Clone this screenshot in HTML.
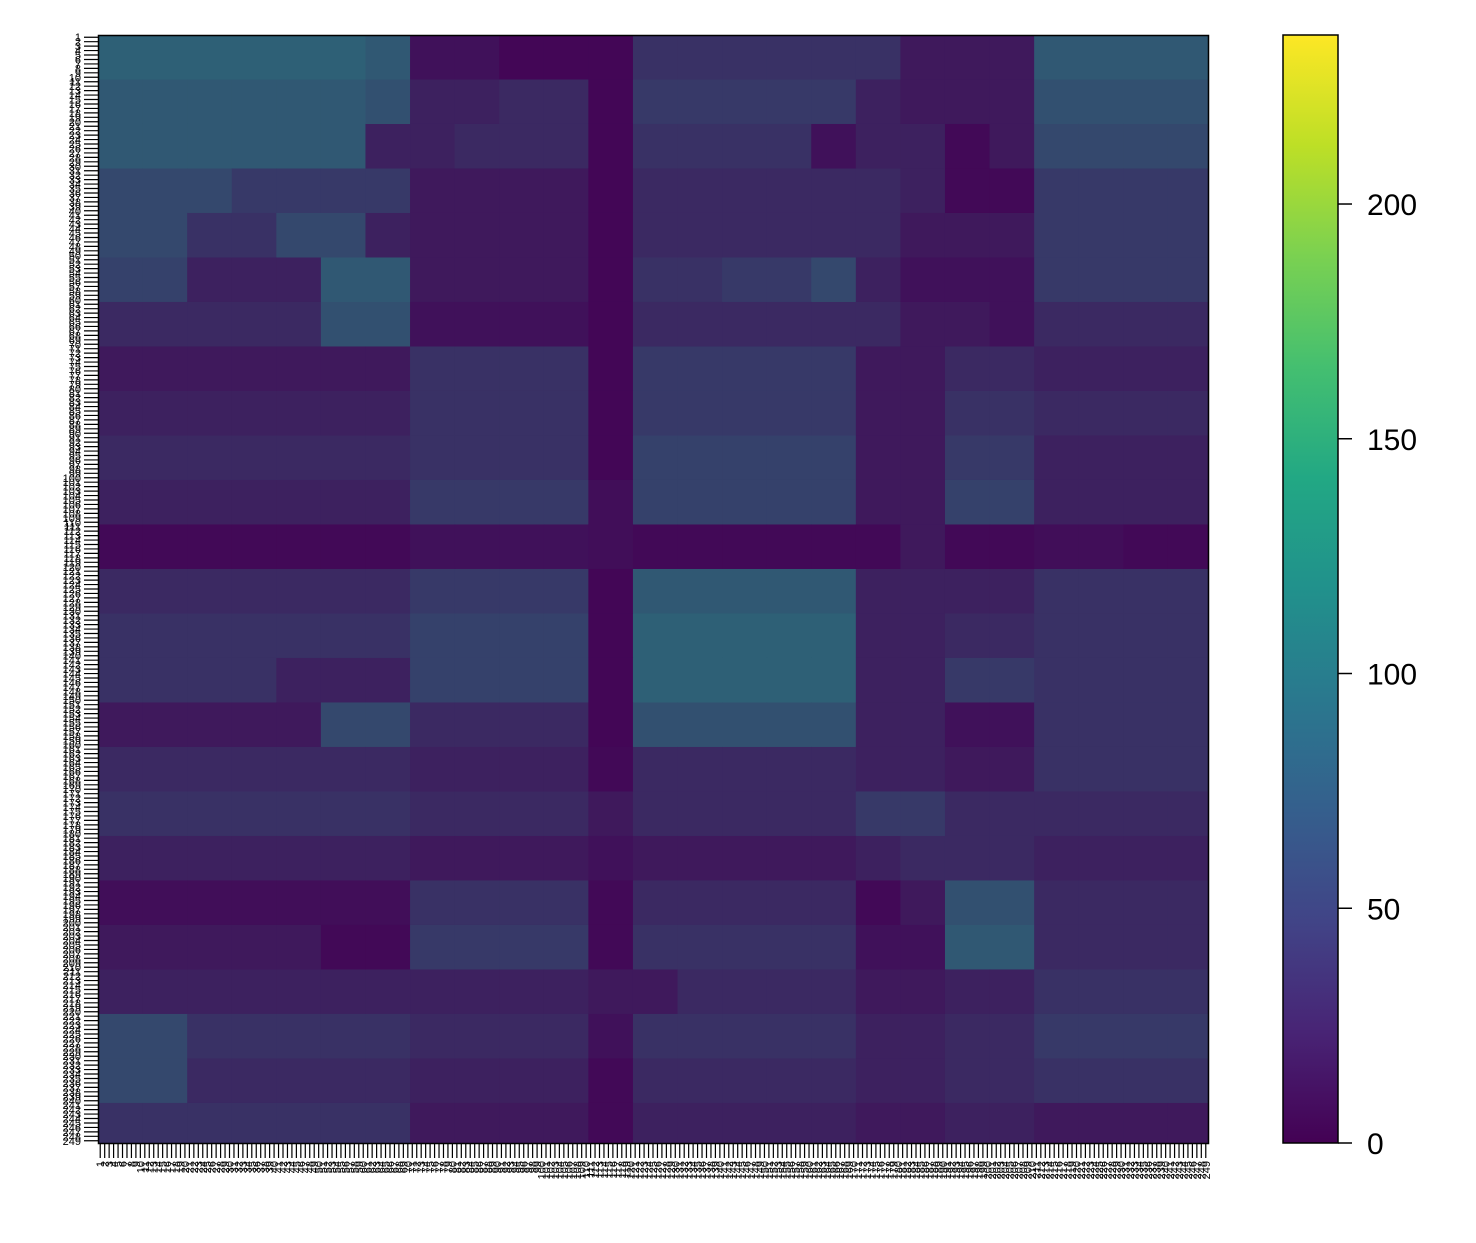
<!DOCTYPE html>
<html><head><meta charset="utf-8">
<style>
html,body{margin:0;padding:0;background:#fff;}
svg{display:block;font-family:"Liberation Sans","DejaVu Sans",sans-serif;}
</style></head>
<body>
<svg id="chart" width="1476" height="1243" viewBox="0 0 1476 1243">
<defs>
<linearGradient id="viridis" x1="0" y1="1" x2="0" y2="0">
<stop offset="0" stop-color="#440154"/><stop offset="0.1" stop-color="#482475"/><stop offset="0.2" stop-color="#414487"/><stop offset="0.3" stop-color="#355f8d"/><stop offset="0.4" stop-color="#2a788e"/><stop offset="0.5" stop-color="#21918c"/><stop offset="0.6" stop-color="#22a884"/><stop offset="0.7" stop-color="#44bf70"/><stop offset="0.8" stop-color="#7ad151"/><stop offset="0.9" stop-color="#bddf26"/><stop offset="1" stop-color="#fde725"/>
</linearGradient>
</defs>
<g id="cells"></g>
<rect x="98.5" y="35.5" width="1110" height="1108" fill="none" stroke="#000" stroke-width="1.5"/>
<g id="yticks"></g>
<g id="xticks"></g>
<rect x="1283" y="35" width="55" height="1108" fill="url(#viridis)" stroke="#000" stroke-width="1.5"/>
<g id="cbticks"></g>
</svg>
<script>
const nCells = 249;
const cbTicks = [0, 50, 100, 150, 200];
const vmax = 236;
const blockRows = [
[60,60,60,60,60,60,55,10,10,3,3,3,30,30,30,30,30,30,15,15,15,55,55,55,55],
[55,55,55,55,55,55,50,20,20,25,25,3,35,35,35,35,35,20,15,15,15,50,50,50,50],
[55,55,55,55,55,55,20,20,25,25,25,3,30,30,30,30,10,20,20,5,15,45,45,45,45],
[45,45,45,35,35,35,35,15,15,15,15,3,25,25,25,25,25,25,20,5,5,35,35,35,35],
[45,45,30,30,45,45,20,15,15,15,15,3,25,25,25,25,25,25,15,15,15,35,35,35,35],
[40,40,20,20,20,55,55,15,15,15,15,3,30,30,35,35,45,20,10,10,10,35,35,35,35],
[25,25,25,25,25,50,50,10,10,10,10,3,25,25,25,25,25,25,15,15,10,25,25,25,25],
[15,15,15,15,15,15,15,30,30,30,30,3,35,35,35,35,35,15,15,25,25,20,20,20,20],
[20,20,20,20,20,20,20,30,30,30,30,3,35,35,35,35,35,15,15,30,30,25,25,25,25],
[25,25,25,25,25,25,25,30,30,30,30,3,40,40,40,40,40,15,15,35,35,20,20,20,20],
[20,20,20,20,20,20,20,35,35,35,35,8,40,40,40,40,40,15,15,40,40,20,20,20,20],
[5,5,5,5,5,5,5,10,10,10,10,8,5,5,5,5,5,5,15,5,5,8,8,5,5],
[25,25,25,25,25,25,25,35,35,35,35,3,55,55,55,55,55,20,20,20,20,30,30,30,30],
[30,30,30,30,30,30,30,40,40,40,40,3,60,60,60,60,60,20,20,25,25,30,30,30,30],
[30,30,30,30,20,20,20,40,40,40,40,3,60,60,60,60,60,20,20,35,35,30,30,30,30],
[15,15,15,15,15,45,45,25,25,25,25,3,50,50,50,50,50,20,20,10,10,30,30,30,30],
[25,25,25,25,25,25,25,20,20,20,20,5,25,25,25,25,25,20,20,15,15,30,30,30,30],
[30,30,30,30,30,30,30,25,25,25,25,15,25,25,25,25,25,35,35,25,25,25,25,25,25],
[20,20,20,20,20,20,20,15,15,15,15,10,15,15,15,15,15,20,25,25,25,20,20,20,20],
[8,8,8,8,8,8,8,30,30,30,30,5,25,25,25,25,25,5,15,50,50,25,25,25,25],
[15,15,15,15,15,5,5,35,35,35,35,5,30,30,30,30,30,10,10,55,55,25,25,25,25],
[20,20,20,20,20,20,20,20,20,20,20,15,15,25,25,25,25,15,15,20,20,30,30,30,30],
[45,45,30,30,30,30,30,25,25,25,25,10,30,30,30,30,30,20,20,25,25,35,35,35,35],
[45,45,25,25,25,25,25,20,20,20,20,5,25,25,25,25,25,20,20,25,25,30,30,30,30],
[30,30,30,30,30,30,30,15,15,15,15,5,20,20,20,20,20,15,15,20,20,15,15,15,15]
];
const blockSize = 10;
const speckleValue = 125;
const NS = "http://www.w3.org/2000/svg";
const x0 = 98, y0 = 35, W = 1110, H = 1108;
const cw = W / nCells, ch = H / nCells;
function xScale(i){ return x0 + i * cw; }
function yScale(i){ return y0 + i * ch; }
const stops = ["#440154","#482475","#414487","#355f8d","#2a788e","#21918c","#22a884","#44bf70","#7ad151","#bddf26","#fde725"];
function hex(h){ return [1,3,5].map(k=>parseInt(h.substr(k,2),16)); }
function viridisRGB(v){
  let t = Math.max(0, Math.min(1, v / vmax)) * 10;
  let i = Math.min(9, Math.floor(t)), f = t - i;
  const a = hex(stops[i]), b = hex(stops[i+1]);
  return a.map((c,k)=>c + (b[k]-c)*f);
}
function blockColor(v){
  const bg = viridisRGB(0), sp = viridisRGB(speckleValue);
  const f = Math.min(1, v / 95);
  return "rgb(" + bg.map((c,k)=>Math.round(c + (sp[k]-c)*f)).join(",") + ")";
}
const cells = document.getElementById("cells");
blockRows.forEach((row, r) => {
  row.forEach((v, c) => {
    const i0 = c * blockSize, i1 = Math.min(nCells, i0 + blockSize);
    const j0 = r * blockSize, j1 = Math.min(nCells, j0 + blockSize);
    const rect = document.createElementNS(NS, "rect");
    rect.setAttribute("x", xScale(i0));
    rect.setAttribute("y", yScale(j0));
    rect.setAttribute("width", xScale(i1) - xScale(i0) + 0.5);
    rect.setAttribute("height", yScale(j1) - yScale(j0) + 0.5);
    rect.setAttribute("fill", blockColor(v));
    
    
    cells.appendChild(rect);
  });
});
const yt = document.getElementById("yticks");
const xt = document.getElementById("xticks");
let yPath = "", xPath = "";
for (let i = 0; i < nCells; i++) {
  const yc = yScale(i + 0.5), xc = xScale(i + 0.5);
  yPath += "M" + (x0 - 14) + " " + yc + "H" + x0;
  xPath += "M" + xc + " " + (y0 + H) + "V" + (y0 + H + 15);
  const ty = document.createElementNS(NS, "text");
  ty.setAttribute("x", x0 - 17);
  ty.setAttribute("y", yc + 4);
  ty.setAttribute("text-anchor", "end");
  ty.setAttribute("font-size", "11");
  ty.textContent = String(i + 1);
  
  
  yt.appendChild(ty);
  const tx = document.createElementNS(NS, "text");
  tx.setAttribute("transform", "translate(" + (xc + 4) + "," + (y0 + H + 18) + ") rotate(-90)");
  tx.setAttribute("text-anchor", "end");
  tx.setAttribute("font-size", "11");
  tx.textContent = String(i + 1);
  
  
  xt.appendChild(tx);
}
const yp = document.createElementNS(NS, "path");
yp.setAttribute("d", yPath); yp.setAttribute("stroke", "#000"); yp.setAttribute("stroke-width", "1.2");


yt.appendChild(yp);
const xp = document.createElementNS(NS, "path");
xp.setAttribute("d", xPath); xp.setAttribute("stroke", "#000"); xp.setAttribute("stroke-width", "1.2");


xt.appendChild(xp);
const cb = document.getElementById("cbticks");
cbTicks.forEach(v => {
  const y = 1143 - v / vmax * 1108;
  const l = document.createElementNS(NS, "line");
  l.setAttribute("x1", 1338); l.setAttribute("x2", 1352);
  l.setAttribute("y1", y); l.setAttribute("y2", y);
  l.setAttribute("stroke", "#000"); l.setAttribute("stroke-width", "1.5");
  
  
  cb.appendChild(l);
  const t = document.createElementNS(NS, "text");
  t.setAttribute("x", 1367); t.setAttribute("y", y + 11);
  t.setAttribute("font-size", "30");
  t.textContent = String(v);
  
  
  cb.appendChild(t);
});
</script>
</body></html>
